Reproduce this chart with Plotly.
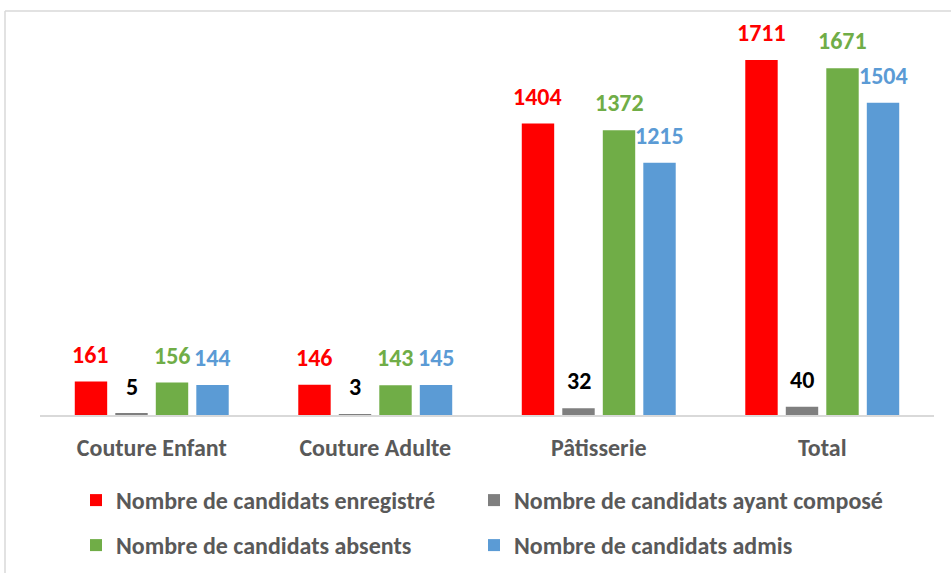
import plotly.graph_objects as go

categories = ["Couture Enfant", "Couture Adulte", "Pâtisserie", "Total"]
series_names = [
    "Nombre de candidats enregistré",
    "Nombre de candidats ayant composé",
    "Nombre de candidats absents",
    "Nombre de candidats admis",
]
enregistre = [161, 146, 1404, 1711]
ayant_compose = [5, 3, 32, 40]
absents = [156, 143, 1372, 1671]
admis = [144, 145, 1215, 1504]

series_values = [enregistre, ayant_compose, absents, admis]
bar_colors = ["#FF0000", "#7F7F7F", "#70AD47", "#5B9BD5"]
label_colors = ["#FF0000", "#000000", "#70AD47", "#5B9BD5"]
legend_ids = ["legend", "legend2", "legend3", "legend4"]

FONT = "Carlito, Calibri, sans-serif"
BARGAP = 0.275
n = len(series_values)
slot = (1 - BARGAP) / n

fig = go.Figure()
for k in range(n):
    fig.add_trace(go.Bar(
        x=categories,
        y=series_values[k],
        name=series_names[k],
        marker=dict(color=bar_colors[k], line=dict(width=0)),
        legend=legend_ids[k],
        hoverinfo="skip",
    ))

annotations = []
for k in range(n):
    for i, v in enumerate(series_values[k]):
        annotations.append(dict(
            x=i + (k - (n - 1) / 2) * slot,
            y=v,
            xref="x",
            yref="y",
            text=str(v),
            showarrow=False,
            yanchor="bottom",
            yshift=11,
            font=dict(family=FONT, size=24, color=label_colors[k], weight="bold"),
        ))

# chart frame (left and top edges)
L, R, T, B = 40, 17, 41, 158
W, H = 951, 573
pw, ph = W - L - R, H - T - B
def px(x):
    return (x - L) / pw
def py(y):
    return (H - B - y) / ph

shapes = [
    dict(type="line", xref="paper", yref="paper", x0=px(5), x1=px(960), y0=py(11), y1=py(11),
         line=dict(color="#D9D9D9", width=1.5)),
    dict(type="line", xref="paper", yref="paper", x0=px(5), x1=px(5), y0=py(11), y1=py(580),
         line=dict(color="#D9D9D9", width=1.5)),
]

legend_font = dict(family=FONT, size=24, color="#595959", weight="bold")
# legend grid: two columns, two rows (pixel positions in the page)
legend_cells = [(76, 478), (474, 478), (76, 523), (474, 523)]
legend_layout = {}
for lid, (lx, ly) in zip(legend_ids, legend_cells):
    legend_layout[lid] = dict(
        orientation="h", xref="container", yref="container",
        x=lx / W, y=1 - ly / H, xanchor="left", yanchor="top",
        font=legend_font, bgcolor="rgba(0,0,0,0)", itemclick=False,
    )

fig.update_layout(
    width=W,
    height=H,
    margin=dict(l=L, r=R, t=T, b=B, autoexpand=False),
    paper_bgcolor="white",
    plot_bgcolor="white",
    barmode="group",
    bargap=BARGAP,
    bargroupgap=0.2,
    showlegend=True,
    annotations=annotations,
    shapes=shapes,
    xaxis=dict(
        showline=True, linecolor="#D9D9D9", linewidth=1.5,
        showgrid=False, zeroline=False, ticks="",
        ticklabelstandoff=10,
        tickfont=dict(family=FONT, size=24, color="#595959", weight="bold"),
    ),
    yaxis=dict(range=[0, 1802], visible=False, showgrid=False, zeroline=False),
    **legend_layout,
)

fig.write_html("out.html")
